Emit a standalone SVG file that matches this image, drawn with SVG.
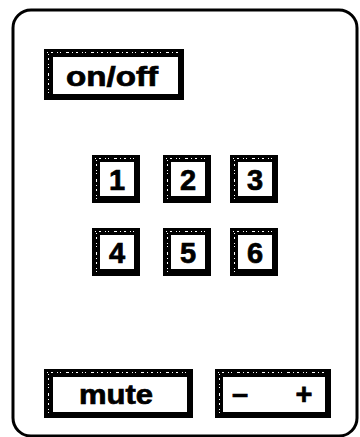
<svg xmlns="http://www.w3.org/2000/svg" width="360" height="437" viewBox="0 0 360 437">
<style>
.frame{fill:#000}
.face{fill:#fff}
.tex{fill:none;stroke:#fff;stroke-width:1;stroke-dasharray:1 3 2 4 1 2 1 5 3 3}
.lbl{font-family:"Liberation Sans",Arial,sans-serif;font-weight:bold;fill:#000;stroke:#000;stroke-width:0.7;text-anchor:middle}
</style>
<rect width="360" height="437" fill="#fff"/>
<rect x="13" y="10" width="344" height="426" rx="18" fill="none" stroke="#000" stroke-width="3"/>
<g id="onoff">
<rect class="frame" x="44" y="49" width="140" height="51"/>
<rect class="face" x="53" y="57" width="125" height="37"/>
<path class="tex" d="M47 52.5H180M48.5 54V96"/>
<text class="lbl" x="112" y="86" font-size="27" textLength="92" lengthAdjust="spacingAndGlyphs">on/off</text>
</g>
<g id="b1">
<rect class="frame" x="92" y="155" width="48" height="48"/>
<rect class="face" x="100" y="162" width="34" height="34"/>
<path class="tex" d="M95 158.5H136M96.5 160V200"/>
<text class="lbl" x="117" y="190" font-size="29">1</text>
</g>
<g id="b2">
<rect class="frame" x="163" y="155" width="48" height="48"/>
<rect class="face" x="171" y="162" width="34" height="34"/>
<path class="tex" d="M166 158.5H207M167.5 160V200"/>
<text class="lbl" x="188" y="190" font-size="29">2</text>
</g>
<g id="b3">
<rect class="frame" x="230" y="155" width="48" height="48"/>
<rect class="face" x="238" y="162" width="34" height="34"/>
<path class="tex" d="M233 158.5H274M234.5 160V200"/>
<text class="lbl" x="255" y="190" font-size="29">3</text>
</g>
<g id="b4">
<rect class="frame" x="92" y="228" width="48" height="48"/>
<rect class="face" x="100" y="235" width="34" height="34"/>
<path class="tex" d="M95 231.5H136M96.5 233V273"/>
<text class="lbl" x="117" y="263" font-size="29">4</text>
</g>
<g id="b5">
<rect class="frame" x="163" y="228" width="48" height="48"/>
<rect class="face" x="171" y="235" width="34" height="34"/>
<path class="tex" d="M166 231.5H207M167.5 233V273"/>
<text class="lbl" x="188" y="263" font-size="29">5</text>
</g>
<g id="b6">
<rect class="frame" x="230" y="228" width="48" height="48"/>
<rect class="face" x="238" y="235" width="34" height="34"/>
<path class="tex" d="M233 231.5H274M234.5 233V273"/>
<text class="lbl" x="255" y="263" font-size="29">6</text>
</g>
<g id="mute">
<rect class="frame" x="44" y="369" width="149" height="49"/>
<rect class="face" x="53" y="377" width="134" height="35"/>
<path class="tex" d="M47 372.5H189M48.5 374V414"/>
<text class="lbl" x="116" y="404" font-size="27" textLength="74" lengthAdjust="spacingAndGlyphs">mute</text>
</g>
<g id="vol">
<rect class="frame" x="215" y="369" width="116" height="49"/>
<rect class="face" x="223" y="377" width="102" height="35"/>
<path class="tex" d="M218 372.5H328M219.5 374V414"/>
<text class="lbl" x="240" y="404" font-size="29">–</text>
<text class="lbl" x="304" y="404" font-size="29">+</text>
</g>
<g id="connectors"/>
</svg>
